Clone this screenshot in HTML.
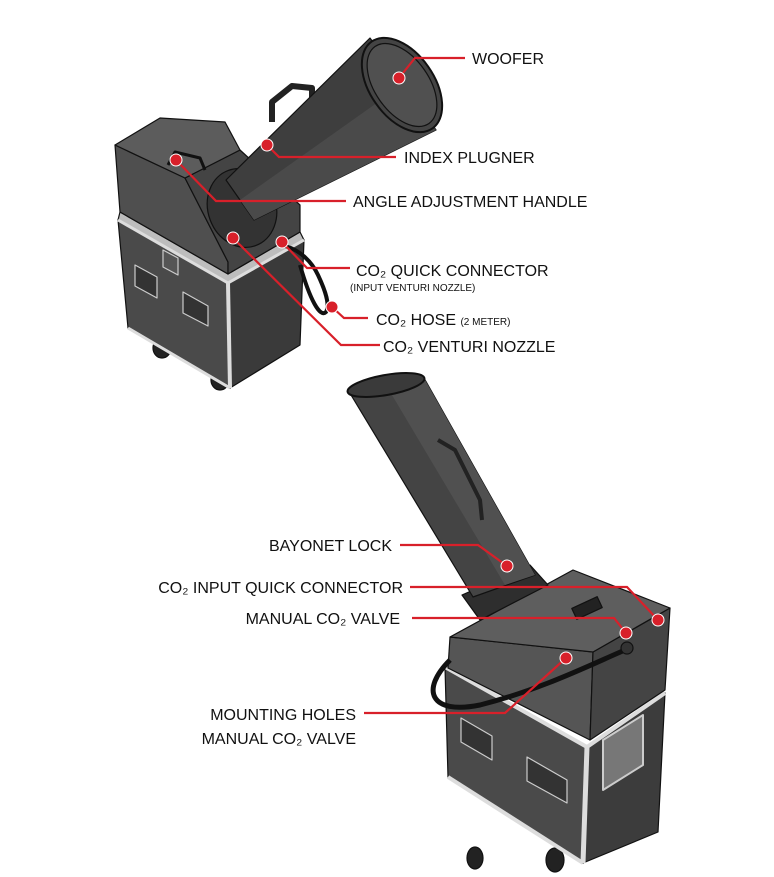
<!DOCTYPE html>
<html><head><meta charset="utf-8"><style>
html,body{margin:0;padding:0;background:#fff;}
svg{display:block}
text{font-family:"Liberation Sans",sans-serif;fill:#111;font-size:16px;}
</style></head><body>
<svg width="774" height="877" viewBox="0 0 774 877" xmlns="http://www.w3.org/2000/svg">
<g stroke="#111" stroke-width="1.2" stroke-linejoin="round">
<!-- TOP DEVICE -->
<ellipse cx="162" cy="348" rx="9" ry="10" fill="#222"/>
<ellipse cx="220" cy="380" rx="9" ry="10" fill="#222"/>
<ellipse cx="292" cy="338" rx="7" ry="8" fill="#222"/>
<polygon points="118,220 228,283 230,388 128,328" fill="#4a4a4a"/>
<polygon points="228,283 304,240 300,345 230,388" fill="#3a3a3a"/>
<polygon points="118,220 228,283 304,240 300,232 228,274 120,212" fill="#bdbdbd"/>
<polyline points="118,220 228,283 304,240" fill="none" stroke="#ddd" stroke-width="3"/>
<line x1="228" y1="283" x2="230" y2="388" stroke="#ddd" stroke-width="4"/>
<line x1="128" y1="328" x2="230" y2="388" stroke="#ddd" stroke-width="3"/>
<polygon points="135,265 157,277 157,298 135,286" fill="#333" stroke="#ccc"/>
<polygon points="183,292 208,306 208,326 183,313" fill="#333" stroke="#ccc"/>
<polygon points="163,250 178,258 178,275 163,267" fill="#555" stroke="#ccc"/>
<polygon points="115,145 185,178 228,262 228,274 120,212" fill="#4f4f4f"/>
<polygon points="185,178 240,150 300,205 300,232 228,274 228,262" fill="#444"/>
<polygon points="115,145 160,118 225,122 240,150 185,178" fill="#5c5c5c"/>
<path d="M168,165 L175,152 L200,158 L205,170" fill="none" stroke="#111" stroke-width="3"/>
<path d="M285,246 C300,250 312,262 318,275 C326,292 330,305 326,312 C320,318 310,300 300,265" fill="none" stroke="#111" stroke-width="4"/>
<ellipse cx="242" cy="208" rx="34" ry="40" fill="#333" transform="rotate(-20 242 208)"/>
<path d="M272,122 L272,102 L292,86 L312,88 L312,100" fill="none" stroke="#222" stroke-width="6"/>
<polygon points="226,180 370,38 436,130 254,220" fill="#3e3e3e"/>
<polygon points="240,200 402,85 436,130 254,220" fill="#4a4a4a" stroke="none"/>
<ellipse cx="402" cy="85" rx="32" ry="53" fill="#444" transform="rotate(-35 402 85)" stroke-width="2"/>
<ellipse cx="402" cy="85" rx="27" ry="47" fill="#505050" transform="rotate(-35 402 85)"/>

<!-- BOTTOM DEVICE -->
<ellipse cx="475" cy="858" rx="8" ry="11" fill="#222"/>
<ellipse cx="555" cy="860" rx="9" ry="12" fill="#222"/>
<polygon points="445,667 587,747 583,863 448,777" fill="#4a4a4a"/>
<polygon points="587,747 665,693 658,832 583,863" fill="#3c3c3c"/>
<polyline points="445,667 587,747 665,693" fill="none" stroke="#ddd" stroke-width="4"/>
<line x1="587" y1="747" x2="583" y2="863" stroke="#ddd" stroke-width="5"/>
<line x1="448" y1="777" x2="583" y2="863" stroke="#ddd" stroke-width="4"/>
<polygon points="461,718 492,736 492,760 461,742" fill="#333" stroke="#ccc"/>
<polygon points="527,757 567,780 567,803 527,781" fill="#333" stroke="#ccc"/>
<polygon points="603,740 643,715 643,765 603,790" fill="#777" stroke="#ccc" stroke-width="2"/>
<polygon points="450,637 593,652 590,740 448,668" fill="#555"/>
<polygon points="593,652 670,608 665,690 590,740" fill="#444"/>
<polygon points="450,637 573,570 670,608 593,652" fill="#5e5e5e"/>
<rect x="573" y="602" width="28" height="12" fill="#222" transform="rotate(-25 587 608)"/>
<path d="M625,650 C590,665 540,690 480,705 C430,715 420,690 450,660" fill="none" stroke="#111" stroke-width="5"/>
<circle cx="627" cy="648" r="6" fill="#333"/>
<polygon points="462,595 530,565 548,585 480,620" fill="#2e2e2e"/>
<polygon points="348,390 424,378 535,575 473,597" fill="#444"/>
<polygon points="386,385 424,378 535,575 505,585" fill="#505050" stroke="none"/>
<ellipse cx="386" cy="385" rx="39" ry="10" fill="#3a3a3a" transform="rotate(-10 386 385)" stroke-width="2"/>
<path d="M438,440 L455,450 L480,500 L482,520" fill="none" stroke="#222" stroke-width="4"/>
</g>

<g stroke="#d8202a" stroke-width="2.2" fill="none">
<polyline points="399,78 415,58 465,58"/>
<polyline points="267,145 279,157 396,157"/>
<polyline points="176,160 216,201 346,201"/>
<polyline points="282,242 307,268 350,268"/>
<polyline points="332,307 344,318 368,318"/>
<polyline points="233,238 341,345 380,345"/>
<polyline points="400,545 478,545 507,566"/>
<polyline points="410,587 627,587 658,620"/>
<polyline points="412,618 614,618 626,633"/>
<polyline points="364,713 505,713 566,658"/>
</g>
<g fill="#d8202a" stroke="#fff" stroke-width="1">
<circle cx="399" cy="78" r="6"/>
<circle cx="267" cy="145" r="6"/>
<circle cx="176" cy="160" r="6"/>
<circle cx="282" cy="242" r="6"/>
<circle cx="332" cy="307" r="6"/>
<circle cx="233" cy="238" r="6"/>
<circle cx="507" cy="566" r="6"/>
<circle cx="658" cy="620" r="6"/>
<circle cx="626" cy="633" r="6"/>
<circle cx="566" cy="658" r="6"/>
</g>

<text x="472" y="64">WOOFER</text>
<text x="404" y="163">INDEX PLUGNER</text>
<text x="353" y="207">ANGLE ADJUSTMENT HANDLE</text>
<text x="356" y="276">CO₂ QUICK CONNECTOR</text>
<text x="350" y="291" style="font-size:10px">(INPUT VENTURI NOZZLE)</text>
<text x="376" y="325">CO₂ HOSE <tspan style="font-size:10px">(2 METER)</tspan></text>
<text x="383" y="352">CO₂ VENTURI NOZZLE</text>
<text x="392" y="551" text-anchor="end">BAYONET LOCK</text>
<text x="403" y="593" text-anchor="end">CO₂ INPUT QUICK CONNECTOR</text>
<text x="400" y="624" text-anchor="end">MANUAL CO₂ VALVE</text>
<text x="356" y="720" text-anchor="end">MOUNTING HOLES</text>
<text x="356" y="744" text-anchor="end">MANUAL CO₂ VALVE</text>
</svg>
</body></html>
